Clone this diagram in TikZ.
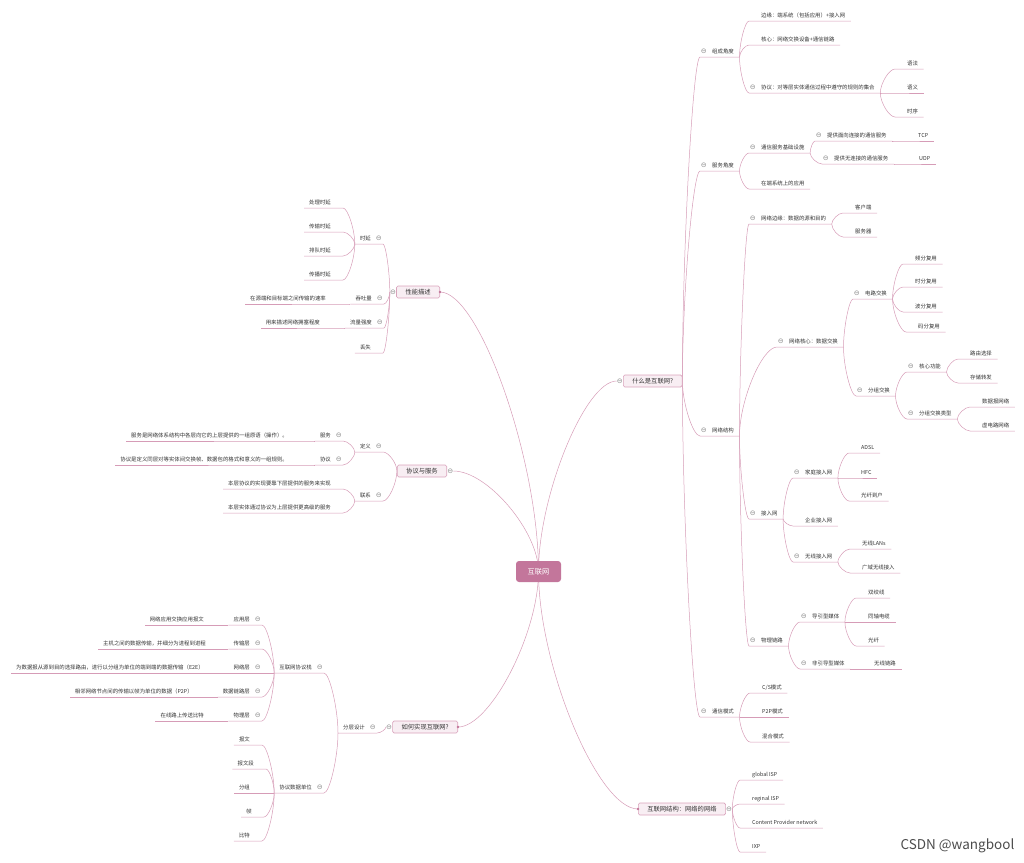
\documentclass[tikz,border=0pt]{standalone}
\usepackage{fontspec}
\setmainfont{Noto Sans CJK SC}
\newfontfamily\symfont{DejaVu Sans}
\usetikzlibrary{positioning, backgrounds, calc}

\definecolor{linec}{HTML}{D69CB7}
\definecolor{boxline}{HTML}{D9A3BC}
\definecolor{boxfill}{HTML}{F8EEF3}
\definecolor{rootfill}{HTML}{C3769B}
\definecolor{foldc}{HTML}{8C8C8C}
\definecolor{txt}{HTML}{333333}

\newcommand\foldmark{\makebox[6pt]{\symfont\fontsize{7}{7}\selectfont\textcolor{foldc}{⊖}}}

\tikzset{
  conn/.style={draw=linec, line width=0.5pt},
  branch/.style={to path={.. controls ($(\tikztostart)!0.4!(\tikztostart |- \tikztotarget)$)
    and ($(\tikztotarget)!0.4!(\tikztostart |- \tikztotarget)$) .. (\tikztotarget)}},
  topic/.style={inner xsep=0pt, inner ysep=2.4pt, text=txt,
    font=\fontsize{5.4}{6}\selectfont, text height=4.4pt, text depth=0.8pt},
  rt/.style={topic, anchor=south west,
    execute at begin node=\hspace*{12pt}, execute at end node=\hspace*{5.5pt}},
  rtf/.style={topic, anchor=south west,
    execute at begin node={\hspace*{0.5pt}\foldmark\hspace*{5.5pt}},
    execute at end node=\hspace*{5.5pt}},
  lt/.style={topic, anchor=south east,
    execute at begin node=\hspace*{5pt}, execute at end node=\hspace*{12pt}},
  ltf/.style={topic, anchor=south east,
    execute at begin node=\hspace*{5pt},
    execute at end node={\hspace*{5pt}\foldmark\hspace*{1pt}}},
  mainbox/.style={draw=boxline, fill=boxfill, line width=0.6pt, rounded corners=1.5pt,
    inner xsep=9pt, inner ysep=0pt, minimum height=12pt, text=txt,
    font=\fontsize{6.3}{7}\selectfont},
  rootbox/.style={fill=rootfill, rounded corners=3pt, minimum width=45pt,
    minimum height=21pt, text=white, font=\fontsize{7.2}{8}\selectfont},
  foldn/.style={inner sep=0pt},
  dot/.style={circle, fill=rootfill, inner sep=0pt, minimum size=2.6pt}
}

\begin{document}
\begin{tikzpicture}[x=1pt, y=-1pt]
  \useasboundingbox (0,0) rectangle (1024,862);

  \node[rootbox] (root) at (538.5,571.5) {互联网};

  % 什么是互联网?
  \node[mainbox, anchor=west] (q1) at (623,381) {什么是互联网?};
  \node[foldn, left=0pt of q1] (q1f) {\foldmark};

  \node[rtf] (a1) at (700,57) {组成角度};
  \node[rt] (a11) at (749,21) {边缘：端系统（包括应用）+接入网};
  \node[rt] (a12) at (749,45) {核心：网络交换设备+通信链路};
  \node[rtf] (a13) at (749,93) {协议：对等层实体通信过程中遵守的规则的集合};
  \node[rt] (a131) at (895,69) {语法};
  \node[rt] (a132) at (895,93) {语义};
  \node[rt] (a133) at (895,117) {时序};

  \node[rtf] (a2) at (700,171) {服务角度};
  \node[rtf] (a21) at (749,153) {通信服务基础设施};
  \node[rtf] (a211) at (815,141) {提供面向连接的通信服务};
  \node[rt] (a2111) at (906,141) {TCP};
  \node[rtf] (a212) at (822,164) {提供无连接的通信服务};
  \node[rt] (a2121) at (907,164) {UDP};
  \node[rt] (a22) at (749,189) {在端系统上的应用};

  \node[rtf] (a3) at (700,436) {网络结构};
  \node[rtf] (a31) at (749,224) {网络边缘：数据的源和目的};
  \node[rt] (a311) at (843,213) {客户端};
  \node[rt] (a312) at (843,237) {服务器};
  \node[rtf] (a32) at (777,347) {网络核心：数据交换};
  \node[rtf] (a321) at (853,299) {电路交换};
  \node[rt] (a3211) at (903,264) {频分复用};
  \node[rt] (a3212) at (903,287) {时分复用};
  \node[rt] (a3213) at (903,312) {波分复用};
  \node[rt] (a3214) at (906,332) {码分复用};
  \node[rtf] (a322) at (856,396) {分组交换};
  \node[rtf] (a3221) at (907,372) {核心功能};
  \node[rt] (a32211) at (958,359) {路由选择};
  \node[rt] (a32212) at (958,383) {存储转发};
  \node[rtf] (a3222) at (907,419) {分组交换类型};
  \node[rt] (a32221) at (970,407) {数据报网络};
  \node[rt] (a32222) at (970,431) {虚电路网络};
  \node[rtf] (a33) at (749,519) {接入网};
  \node[rtf] (a331) at (793,478) {家庭接入网};
  \node[rt] (a3311) at (849,453) {ADSL};
  \node[rt] (a3312) at (849,478) {HFC};
  \node[rt] (a3313) at (849,501) {光纤到户};
  \node[rt] (a332) at (793,526) {企业接入网};
  \node[rtf] (a333) at (793,562) {无线接入网};
  \node[rt] (a3331) at (850,549) {无线LANs};
  \node[rt] (a3332) at (850,573) {广域无线接入};
  \node[rtf] (a34) at (749,646) {物理链路};
  \node[rtf] (a341) at (800,622) {导引型媒体};
  \node[rt] (a3411) at (856,598) {双绞线};
  \node[rt] (a3412) at (856,622) {同轴电缆};
  \node[rt] (a3413) at (856,646) {光纤};
  \node[rtf] (a342) at (800,669) {非引导型媒体};
  \node[rt] (a3421) at (862,669) {无线链路};

  \node[rtf] (a4) at (700,717) {通信模式};
  \node[rt] (a41) at (750,693) {C/S模式};
  \node[rt] (a42) at (750,717) {P2P模式};
  \node[rt] (a43) at (750,742) {混合模式};

  % 互联网结构
  \node[mainbox, anchor=west] (q2) at (638,809) {互联网结构：网络的网络};
  \node[foldn, right=0pt of q2] (q2f) {\foldmark};
  \node[dot] (q2d) at (q2.west) {};
  \node[rt] (e1) at (740,780) {global ISP};
  \node[rt] (e2) at (740,804) {reginal ISP};
  \node[rt] (e3) at (740,828) {Content Provider network};
  \node[rt] (e4) at (740,852) {IXP};

  % 性能描述
  \node[mainbox, anchor=east] (p1) at (440,292) {性能描述};
  \node[foldn, left=0pt of p1] (p1f) {\foldmark};
  \node[dot] (p1d) at (p1.east) {};
  \node[ltf] (b1) at (383,244) {时延};
  \node[lt] (b11) at (343,208) {处理时延};
  \node[lt] (b12) at (343,232) {传输时延};
  \node[lt] (b13) at (343,256) {排队时延};
  \node[lt] (b14) at (343,280) {传播时延};
  \node[ltf] (b2) at (384,304) {吞吐量};
  \node[lt] (b21) at (338,304) {在源端和目标端之间传输的速率};
  \node[ltf] (b3) at (384,328) {流量强度};
  \node[lt] (b31) at (332,328) {用来描述网络拥塞程度};
  \node[lt] (b4) at (383,353) {丢失};

  % 协议与服务
  \node[mainbox, anchor=east] (p2) at (447,471) {协议与服务};
  \node[foldn, right=0pt of p2] (p2f) {\foldmark};
  \node[ltf] (c1) at (383,452) {定义};
  \node[ltf] (c11) at (343,441) {服务};
  \node[lt] (c111) at (300,441) {服务是网络体系结构中各层向它的上层提供的一组原语（操作）。};
  \node[ltf] (c12) at (343,465) {协议};
  \node[lt] (c121) at (300,465) {协议是定义同层对等实体间交换帧、数据包的格式和意义的一组规则。};
  \node[ltf] (c2) at (383,501) {联系};
  \node[lt] (c21) at (343,489) {本层协议的实现要靠下层提供的服务来实现};
  \node[lt] (c22) at (343,513) {本层实体通过协议为上层提供更高级的服务};

  % 如何实现互联网?
  \node[mainbox, anchor=east] (p3) at (458,727) {如何实现互联网?};
  \node[foldn, left=0pt of p3] (p3f) {\foldmark};
  \node[dot] (p3d) at (p3.east) {};
  \node[ltf] (d1) at (377,733) {分层设计};
  \node[ltf] (d11) at (324,673) {互联网协议栈};
  \node[ltf] (d111) at (262,625) {应用层};
  \node[lt] (d1111) at (216,625) {网络应用交换应用报文};
  \node[ltf] (d112) at (262,649) {传输层};
  \node[lt] (d1121) at (218,649) {主机之间的数据传输，并细分为进程到进程};
  \node[ltf] (d113) at (262,673) {网络层};
  \node[lt] (d1131) at (216,673) {为数据报从源到目的选择路由，进行以分组为单位的端到端的数据传输（E2E）};
  \node[ltf] (d114) at (262,697) {数据链路层};
  \node[lt] (d1141) at (205,697) {相邻网络节点间的传输以帧为单位的数据（P2P）};
  \node[ltf] (d115) at (262,721) {物理层};
  \node[lt] (d1151) at (216,721) {在线路上传送比特};
  \node[ltf] (d12) at (324,793) {协议数据单位};
  \node[lt] (d121) at (262,745) {报文};
  \node[lt] (d122) at (266,769) {报文段};
  \node[lt] (d123) at (262,793) {分组};
  \node[lt] (d124) at (264,817) {帧};
  \node[lt] (d125) at (262,841) {比特};

  \node[anchor=west, text=black!70, font=\fontsize{13.5}{14}\selectfont] (mark) at (897,846) {CSDN @wangbool};

  \begin{scope}[on background layer]
    % root to main topics
    \foreach \t in {q1f.west, p1d.center, p2f.east, p3d.center, q2d.center}
      \draw[conn] (root.center) to[branch] (\t);
    % box to first level
    \foreach \c in {a1,a2,a3,a4}
      \draw[conn] (q1.east) to[branch] (\c.south west) -- (\c.south east);
    \foreach \c in {e1,e2,e3,e4}
      \draw[conn] (q2f.east) to[branch] (\c.south west) -- (\c.south east);
    \foreach \c in {b1,b2,b3,b4}
      \draw[conn] (p1f.west) to[branch] (\c.south east) -- (\c.south west);
    \foreach \c in {c1,c2}
      \draw[conn] (p2.west) to[branch] (\c.south east) -- (\c.south west);
    \foreach \c in {d1}
      \draw[conn] (p3f.west) to[branch] (\c.south east) -- (\c.south west);
    % right side branches
    \foreach \p/\cs in {a1/{a11,a12,a13}, a13/{a131,a132,a133}, a2/{a21,a22},
        a21/{a211,a212}, a211/{a2111}, a212/{a2121}, a3/{a31,a32,a33,a34},
        a31/{a311,a312}, a32/{a321,a322}, a321/{a3211,a3212,a3213,a3214},
        a322/{a3221,a3222}, a3221/{a32211,a32212}, a3222/{a32221,a32222},
        a33/{a331,a332,a333}, a331/{a3311,a3312,a3313}, a333/{a3331,a3332},
        a34/{a341,a342}, a341/{a3411,a3412,a3413}, a342/{a3421}, a4/{a41,a42,a43}}
      \foreach \c in \cs
        \draw[conn] (\p.south east) to[branch] (\c.south west) -- (\c.south east);
    % left side branches
    \foreach \p/\cs in {b1/{b11,b12,b13,b14}, b2/{b21}, b3/{b31},
        c1/{c11,c12}, c11/{c111}, c12/{c121}, c2/{c21,c22},
        d1/{d11,d12}, d11/{d111,d112,d113,d114,d115}, d111/{d1111}, d112/{d1121},
        d113/{d1131}, d114/{d1141}, d115/{d1151}, d12/{d121,d122,d123,d124,d125}}
      \foreach \c in \cs
        \draw[conn] (\p.south west) to[branch] (\c.south east) -- (\c.south west);
  \end{scope}
\end{tikzpicture}
\end{document}
